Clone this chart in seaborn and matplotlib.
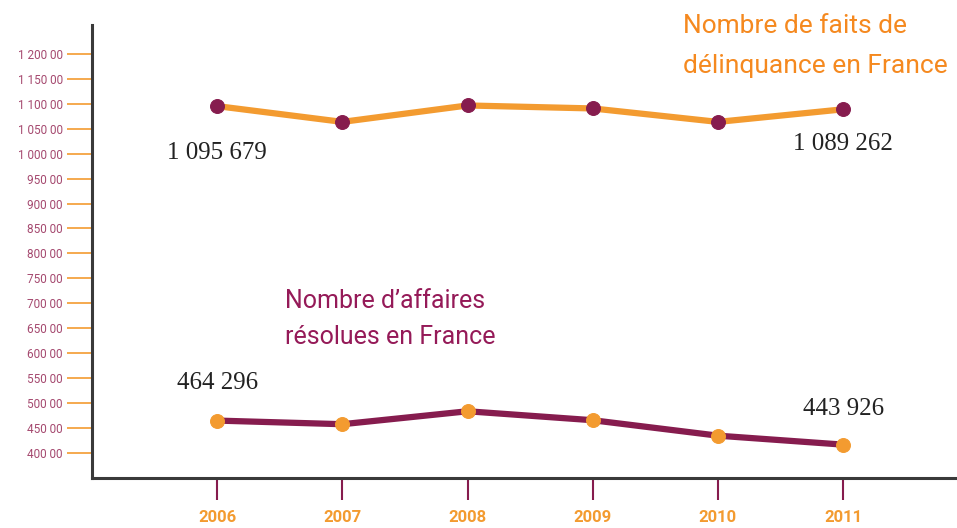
import matplotlib
matplotlib.use("Agg")
import matplotlib.pyplot as plt
import seaborn as sns
import pandas as pd

# values
years = [2006, 2007, 2008, 2009, 2010, 2011]
faits = [1095679, 1064000, 1097000, 1091000, 1064000, 1089262]
affaires = [464296, 457000, 483000, 465000, 434000, 416000]

faits_labels = ["1 095 679", "1 089 262"]
affaires_labels = ["464 296", "443 926"]

ytick_values = list(range(400000, 1200001, 50000))
ytick_labels = ["400 00", "450 00", "500 00", "550 00", "600 00", "650 00",
                "700 00", "750 00", "800 00", "850 00", "900 00", "950 00",
                "1 000 00", "1 050 00", "1 100 00", "1 150 00", "1 200 00"]

ORANGE = "#F39B30"
MAROON = "#861C4E"
PINK = "#A5496F"

sns.set_style("white")
plt.rcParams["font.family"] = ["Roboto", "DejaVu Sans"]

df = pd.DataFrame({"year": years, "faits": faits, "affaires": affaires})

fig = plt.figure(figsize=(9.57, 5.28), dpi=100)
ax = fig.add_axes([0.0961, 0.0947, 0.9039, 0.858])

sns.lineplot(data=df, x="year", y="faits", ax=ax, color=ORANGE, linewidth=4.5,
             marker="o", markersize=10, markerfacecolor=MAROON,
             markeredgecolor=MAROON, zorder=3)
sns.lineplot(data=df, x="year", y="affaires", ax=ax, color=MAROON, linewidth=4.5,
             marker="o", markersize=10, markerfacecolor=ORANGE,
             markeredgecolor=ORANGE, zorder=3)

ax.set_xlim(2005.0, 2011.91)
ax.set_ylim(349000, 1258600)

ax.set_yticks(ytick_values)
ax.set_yticklabels(ytick_labels)
ax.set_xticks(years)
ax.set_xticklabels([str(y) for y in years])

ax.tick_params(axis="y", direction="out", length=18, width=1.2, color=ORANGE,
               labelsize=8.5, labelcolor=PINK, pad=3, left=True)
ax.tick_params(axis="x", direction="out", length=16, width=1.5, color=MAROON,
               labelsize=12, labelcolor=ORANGE, pad=7, bottom=True)
for lab in ax.get_xticklabels():
    lab.set_fontweight("bold")

for side in ["top", "right"]:
    ax.spines[side].set_visible(False)
ax.spines["left"].set_color("#3a3a3a")
ax.spines["left"].set_linewidth(2.2)
ax.spines["bottom"].set_color("#3a3a3a")
ax.spines["bottom"].set_linewidth(2.2)

ax.set_xlabel("")
ax.set_ylabel("")

serif = ["Liberation Serif", "DejaVu Serif"]
ax.text(years[0], faits[0] - 95000, faits_labels[0], ha="center", va="center",
        fontsize=18, family=serif, color="#222222")
ax.text(years[-1], faits[-1] - 70000, faits_labels[1], ha="center", va="center",
        fontsize=18, family=serif, color="#222222")
ax.text(years[0], affaires[0] + 76000, affaires_labels[0], ha="center", va="center",
        fontsize=18, family=serif, color="#222222")
ax.text(years[-1], affaires[-1] + 72000, affaires_labels[1], ha="center", va="center",
        fontsize=18, family=serif, color="#222222")

fig.text(683 / 957, 1 - 46 / 528, "Nombre de faits de\ndélinquance en France",
         ha="left", va="center", fontsize=19, color="#F5891F", linespacing=1.8)
fig.text(285 / 957, 1 - 319 / 528, "Nombre d\u2019affaires\nrésolues en France",
         ha="left", va="center", fontsize=18, color="#951A58", linespacing=1.65)

fig.savefig("out.png", dpi=100)
